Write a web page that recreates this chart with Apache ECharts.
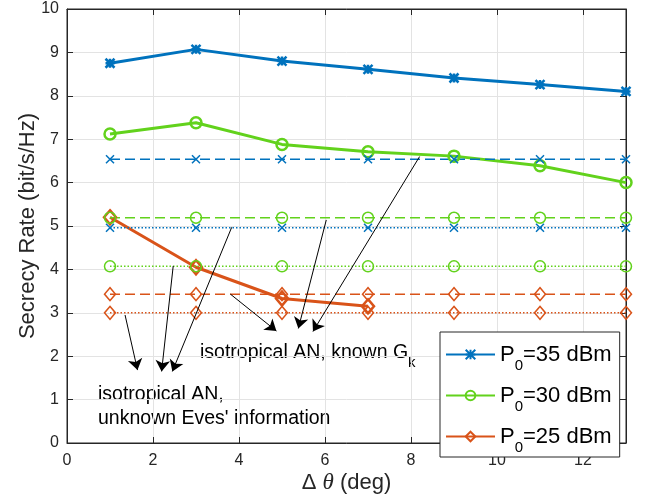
<!DOCTYPE html>
<html>
<head>
<meta charset="utf-8">
<script src="https://cdn.jsdelivr.net/npm/echarts@6/dist/echarts.min.js"></script>
<style>
  html, body { margin: 0; padding: 0; background: #ffffff; }
  #chart { width: 646px; height: 496px; }
</style>
</head>
<body>
<div id="chart"></div>
<script>
// Angular separation (deg)
const deltaTheta = [1, 3, 5, 7, 9, 11, 13];
const deltaThetaP25 = [1, 3, 5, 7];

// Proposed scheme, secrecy rate (bit/s/Hz)
const rateP35 = [8.75, 9.07, 8.80, 8.61, 8.41, 8.26, 8.10];
const rateP30 = [7.12, 7.38, 6.88, 6.71, 6.61, 6.39, 6.00];
const rateP25 = [5.20, 4.05, 3.33, 3.15];

// Isotropical AN, known G_k
const isoKnownP35 = [6.54, 6.54, 6.54, 6.54, 6.54, 6.54, 6.54];
const isoKnownP30 = [5.19, 5.19, 5.19, 5.19, 5.19, 5.19, 5.19];
const isoKnownP25 = [3.43, 3.43, 3.43, 3.43, 3.43, 3.43, 3.43];

// Isotropical AN, unknown Eves' information
const isoUnknownP35 = [4.96, 4.96, 4.96, 4.96, 4.96, 4.96, 4.96];
const isoUnknownP30 = [4.07, 4.07, 4.07, 4.07, 4.07, 4.07, 4.07];
const isoUnknownP25 = [3.00, 3.00, 3.00, 3.00, 3.00, 3.00, 3.00];

// Legend entries
const legendNames = ['P0=35 dBm', 'P0=30 dBm', 'P0=25 dBm'];

// Axis ticks
const xTickStep = 2;
const yTickStep = 1;

// Annotation arrows in data coordinates: [from, to]
const arrowsKnownGk = [
  [[3.80, 3.43], [4.87, 2.58]],
  [[6.03, 5.14], [5.38, 2.64]],
  [[8.20, 6.60], [5.72, 2.57]]
];
const arrowsUnknownEves = [
  [[1.35, 2.95], [1.64, 1.68]],
  [[2.47, 4.08], [2.20, 1.65]],
  [[3.83, 4.97], [2.45, 1.65]]
];

const BLUE = '#0072BD';
const GREEN = '#62D21C';
const RED = '#D95319';
const AXIS = '#262626';
const GRID = '#e3e3e3';
const FONT = '"Liberation Sans", Arial, Helvetica, sans-serif';

const SYM_STAR = 'path://M0,0L10,10M10,0L0,10M5,0L5,10M0,5L10,5';
const SYM_X = 'path://M0,0L10,10M10,0L0,10';

function pairs(xs, ys) { return ys.map((y, i) => [xs[i], y]); }

function solidSeries(name, xs, ys, color, symbol, size) {
  return {
    name, type: 'line', data: pairs(xs, ys),
    symbol, symbolSize: size, showSymbol: true,
    lineStyle: { color, width: 3 },
    itemStyle: { color: 'none', borderColor: color, borderWidth: 2.5 },
    emphasis: { disabled: true }, silent: true, animation: false
  };
}

function refSeries(name, ys, color, symbol, size, dash) {
  return {
    name, type: 'line', data: pairs(deltaTheta, ys),
    symbol, symbolSize: size, showSymbol: true,
    lineStyle: { color, width: 1.5, type: dash },
    itemStyle: { color: 'none', borderColor: color, borderWidth: 1.5 },
    emphasis: { disabled: true }, silent: true, animation: false
  };
}

const DASH = [10, 5];
const DOT = [1.5, 2];

const arrowLines = arrowsKnownGk.concat(arrowsUnknownEves).map(a => [
  { coord: a[0] }, { coord: a[1] }
]);

// Top and right axes close the frame (ticks only, invisible labels)
function frameAxis(extra) {
  return Object.assign({
    type: 'value',
    axisLine: { show: true, onZero: false, lineStyle: { color: AXIS, width: 1 } },
    axisTick: { show: true, inside: true, length: 6, lineStyle: { color: AXIS } },
    axisLabel: { show: true, color: 'rgba(0,0,0,0)' },
    splitLine: { show: false }
  }, extra);
}

const chart = echarts.init(document.getElementById('chart'), null, { renderer: 'canvas' });

chart.setOption({
  animation: false,
  backgroundColor: '#ffffff',
  textStyle: { fontFamily: FONT },
  grid: {
    left: 67, right: 20, top: 9, bottom: 53, outerBoundsMode: 'none', containLabel: false,
    show: true, borderColor: AXIS, borderWidth: 1, backgroundColor: 'transparent'
  },
  xAxis: [{
    type: 'value', min: 0, max: 13, interval: xTickStep,
    name: 'Δ {t|θ} (deg)', nameLocation: 'middle', nameGap: 28, nameMoveOverlap: false,
    nameTextStyle: {
      fontSize: 22, color: AXIS, fontFamily: FONT,
      rich: { t: { fontSize: 23, fontStyle: 'italic', fontFamily: '"Liberation Serif", "Times New Roman", serif', color: AXIS } }
    },
    axisLine: { show: true, onZero: false, lineStyle: { color: AXIS, width: 1 } },
    axisTick: { show: true, inside: true, length: 6, lineStyle: { color: AXIS } },
    axisLabel: { fontSize: 16, color: AXIS, margin: 10, showMaxLabel: false, fontFamily: FONT },
    splitLine: { show: true, showMaxLine: false, showMinLine: false, lineStyle: { color: GRID, width: 1 } }
  }, frameAxis({ min: 0, max: 13, interval: xTickStep, position: 'top' })],
  yAxis: [{
    type: 'value', min: 0, max: 10, interval: yTickStep,
    name: 'Secrecy Rate (bit/s/Hz)', nameLocation: 'middle', nameGap: 28, nameMoveOverlap: false,
    nameTextStyle: { fontSize: 22, color: AXIS, fontFamily: FONT },
    axisLine: { show: true, onZero: false, lineStyle: { color: AXIS, width: 1 } },
    axisTick: { show: true, inside: true, length: 6, lineStyle: { color: AXIS } },
    axisLabel: { fontSize: 16, color: AXIS, margin: 8, fontFamily: FONT },
    splitLine: { show: true, showMaxLine: false, showMinLine: false, lineStyle: { color: GRID, width: 1 } }
  }, frameAxis({ min: 0, max: 10, interval: yTickStep, position: 'right' })],
  legend: {
    data: legendNames,
    orient: 'vertical',
    left: 440, top: 332,
    padding: [4, 8, 2, 5],
    itemGap: 4,
    itemWidth: 49, itemHeight: 12,
    backgroundColor: '#ffffff',
    borderColor: AXIS, borderWidth: 1, borderRadius: 0,
    selectedMode: false,
    formatter: name => '{m|P}{s|0}{m|' + name.slice(2) + '}',
    textStyle: {
      fontFamily: FONT, color: '#000000', fontSize: 22, lineHeight: 30,
      rich: {
        m: { fontSize: 22, lineHeight: 30, color: '#000000', fontFamily: FONT },
        s: { fontSize: 15, lineHeight: 30, color: '#000000', fontFamily: FONT, padding: [22, 0, 0, 0] }
      }
    }
  },
  graphic: [{
    type: 'text', left: 200, top: 335, silent: true,
    style: {
      text: '{n|isotropical AN, known G}{s|k}',
      fill: '#000000',
      rich: {
        n: { fontSize: 19.5, lineHeight: 24, fontFamily: FONT, fill: '#000000' },
        s: { fontSize: 15, lineHeight: 24, fontFamily: FONT, fill: '#000000', padding: [20, 0, 0, 0] }
      }
    }
  }, {
    type: 'text', left: 98, top: 382, silent: true,
    style: {
      text: 'isotropical AN,\nunknown Eves\' information',
      font: '19.5px ' + FONT, lineHeight: 24.3, fill: '#000000'
    }
  }],
  series: [
    solidSeries(legendNames[0], deltaTheta, rateP35, BLUE, SYM_STAR, 9),
    solidSeries(legendNames[1], deltaTheta, rateP30, GREEN, 'circle', 11),
    solidSeries(legendNames[2], deltaThetaP25, rateP25, RED, 'diamond', [12, 14]),
    refSeries('known35', isoKnownP35, BLUE, SYM_X, 8, DASH),
    refSeries('known30', isoKnownP30, GREEN, 'circle', 11, DASH),
    refSeries('known25', isoKnownP25, RED, 'diamond', [11, 13], DASH),
    refSeries('unknown35', isoUnknownP35, BLUE, SYM_X, 8, DOT),
    refSeries('unknown30', isoUnknownP30, GREEN, 'circle', 11, DOT),
    refSeries('unknown25', isoUnknownP25, RED, 'diamond', [11, 13], DOT),
    {
      // Annotation arrows, on the top/right axes (same scales as bottom/left)
      name: 'annotations', type: 'line', xAxisIndex: 1, yAxisIndex: 1,
      data: [[0, 0]], symbol: 'none', lineStyle: { opacity: 0 }, silent: true,
      markLine: {
        silent: true, animation: false,
        symbol: ['none', 'arrow'], symbolSize: 11,
        label: { show: false },
        lineStyle: { color: '#000000', width: 1, type: 'solid', opacity: 1 },
        emphasis: { disabled: true },
        data: arrowLines
      }
    }
  ]
});
</script>
</body>
</html>
